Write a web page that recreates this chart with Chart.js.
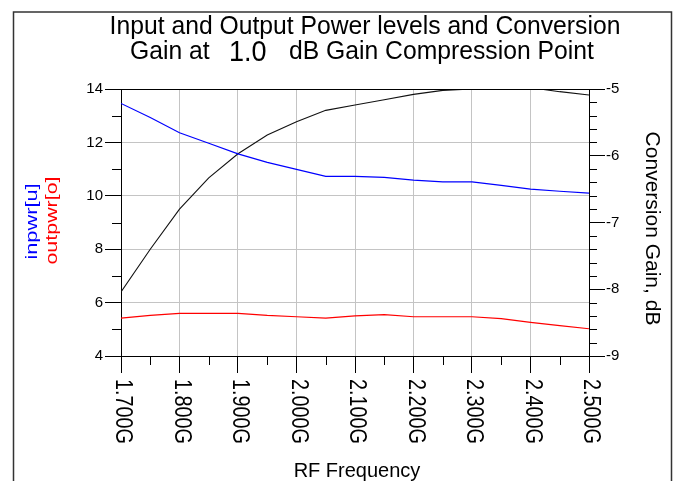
<!DOCTYPE html>
<html>
<head>
<meta charset="utf-8">
<script src="https://cdn.jsdelivr.net/npm/chart.js@4.4.1/dist/chart.umd.min.js"></script>
<style>
  html, body { margin: 0; padding: 0; background: #fff; }
  #wrap { position: relative; width: 678px; height: 481px; }
</style>
</head>
<body>
<div id="wrap"><canvas id="gainChart"></canvas></div>
<script>
// RF sweep, GHz
const freqGHz = [1.70, 1.75, 1.80, 1.85, 1.90, 1.95, 2.00, 2.05, 2.10, 2.15, 2.20, 2.25, 2.30, 2.35, 2.40, 2.45, 2.50];
// input power at 1 dB compression (left axis)
const inpwr = [13.46, 12.93, 12.36, 11.97, 11.57, 11.25, 10.99, 10.73, 10.73, 10.69, 10.59, 10.52, 10.52, 10.39, 10.25, 10.17, 10.10];
// output power (left axis)
const outpwr = [5.42, 5.52, 5.60, 5.60, 5.60, 5.52, 5.47, 5.42, 5.50, 5.55, 5.47, 5.47, 5.47, 5.40, 5.26, 5.14, 5.02];
// conversion gain, dB (right axis)
const convGain = [-8.04, -7.40, -6.80, -6.33, -5.97, -5.69, -5.49, -5.32, -5.24, -5.16, -5.08, -5.02, -5.00, -5.00, -4.98, -5.04, -5.09];

const freqTicks = [1.7, 1.8, 1.9, 2.0, 2.1, 2.2, 2.3, 2.4, 2.5];
const powerTicks = [4, 6, 8, 10, 12, 14];
const powerMinor = [5, 7, 9, 11, 13];
const gainTicks = [-9, -8, -7, -6, -5];

const FONT = "'Liberation Sans', Arial, sans-serif";

function pts(ys) {
    return freqGHz.map((f, i) => ({ x: f, y: ys[i] }));
}

// text stretched/squeezed along its own direction
function drawText(ctx, text, x, y, size, squeeze, angle, align, color) {
    ctx.save();
    ctx.translate(x, y);
    ctx.rotate(angle);
    ctx.scale(squeeze, 1);
    ctx.font = size + 'px ' + FONT;
    ctx.fillStyle = color;
    ctx.textAlign = align;
    ctx.textBaseline = 'alphabetic';
    ctx.fillText(text, 0, 0);
    ctx.restore();
}

const decor = {
    id: 'decor',
    afterDraw(chart) {
        const ctx = chart.ctx;
        const a = chart.chartArea;
        const sx = chart.scales.x, sy = chart.scales.y, sg = chart.scales.gain;
        ctx.save();

        // outer frame, bottom edge is off the picture
        ctx.strokeStyle = '#333';
        ctx.lineWidth = 1.5;
        ctx.beginPath();
        ctx.moveTo(13.5, 481);
        ctx.lineTo(13.5, 12);
        ctx.lineTo(671.5, 12);
        ctx.lineTo(671.5, 481);
        ctx.stroke();

        // top edge of plot + minor ticks
        ctx.strokeStyle = '#000';
        ctx.lineWidth = 1;
        ctx.beginPath();
        const top = Math.round(a.top) + 0.5;
        ctx.moveTo(a.left, top);
        ctx.lineTo(a.right, top);
        powerMinor.forEach(v => {
            const p = Math.round(sy.getPixelForValue(v)) + 0.5;
            ctx.moveTo(a.left - 9, p);
            ctx.lineTo(a.left, p);
        });
        for (let i = 0; i < gainTicks.length - 1; i++) {
            for (let k = 1; k < 5; k++) {
                const p = Math.round(sg.getPixelForValue(gainTicks[i] + k * 0.2)) + 0.5;
                ctx.moveTo(a.right, p);
                ctx.lineTo(a.right + 8, p);
            }
        }
        for (let i = 0; i < freqTicks.length - 1; i++) {
            const p = Math.round(sx.getPixelForValue((freqTicks[i] + freqTicks[i + 1]) / 2)) + 0.5;
            ctx.moveTo(p, a.bottom);
            ctx.lineTo(p, a.bottom + 9);
        }
        ctx.stroke();

        // x tick labels, reading downwards
        freqTicks.forEach(v => {
            const p = sx.getPixelForValue(v);
            drawText(ctx, v.toFixed(3) + 'G', p - 5, a.bottom + 23, 23, 0.86, Math.PI / 2, 'left', '#000');
        });

        // axis titles
        const midY = (a.top + a.bottom) / 2;
        drawText(ctx, 'inpwr[u]', 37, midY - 1, 17, 1.28, -Math.PI / 2, 'center', '#0000ff');
        drawText(ctx, 'outpwr[o]', 57, midY - 2, 17, 1.26, -Math.PI / 2, 'center', '#ff0000');
        drawText(ctx, 'Conversion Gain, dB', 646, midY + 6, 21, 1, Math.PI / 2, 'center', '#000');
        drawText(ctx, 'RF Frequency', 357, 477, 20, 1, 0, 'center', '#000');

        // title
        drawText(ctx, 'Input and Output Power levels and Conversion', 365, 34, 26, 0.95, 0, 'center', '#000');
        drawText(ctx, 'Gain at', 130, 59, 26, 0.95, 0, 'left', '#000');
        drawText(ctx, '1.0', 229, 61, 30, 0.9, 0, 'left', '#000');
        drawText(ctx, 'dB Gain Compression Point', 289, 59, 26, 0.95, 0, 'left', '#000');

        ctx.restore();
    }
};

new Chart(document.getElementById('gainChart'), {
    type: 'line',
    data: {
        datasets: [
            { label: 'inpwr[u]', data: pts(inpwr), yAxisID: 'y', borderColor: '#0000ff', borderWidth: 1.2 },
            { label: 'outpwr[o]', data: pts(outpwr), yAxisID: 'y', borderColor: '#ff0000', borderWidth: 1.2 },
            { label: 'Conversion Gain, dB', data: pts(convGain), yAxisID: 'gain', borderColor: '#111', borderWidth: 1.1 }
        ]
    },
    options: {
        responsive: true,
        maintainAspectRatio: false,
        animation: false,
        layout: { padding: { top: 89, left: 0, right: 0, bottom: 0 } },
        elements: { point: { radius: 0 }, line: { tension: 0 } },
        plugins: {
            legend: { display: false },
            tooltip: { enabled: false }
        },
        scales: {
            x: {
                type: 'linear',
                min: 1.7,
                max: 2.5,
                afterBuildTicks: s => { s.ticks = freqTicks.map(v => ({ value: v })); },
                afterFit: s => { s.height = 125; },
                ticks: { display: false },
                grid: { color: '#c4c4c4', tickColor: '#000', tickLength: 17 },
                border: { color: '#000' }
            },
            y: {
                position: 'left',
                min: 4,
                max: 14,
                afterBuildTicks: s => { s.ticks = powerTicks.map(v => ({ value: v })); },
                afterFit: s => { s.width = 121; },
                ticks: { color: '#000', padding: 2, font: { family: FONT, size: 15 } },
                grid: { color: '#c4c4c4', tickColor: '#000', tickLength: 16 },
                border: { color: '#000' }
            },
            gain: {
                position: 'right',
                min: -9,
                max: -5,
                afterBuildTicks: s => { s.ticks = gainTicks.map(v => ({ value: v })); },
                afterFit: s => { s.width = 89; },
                ticks: { color: '#000', padding: 1, font: { family: FONT, size: 15 } },
                grid: { drawOnChartArea: false, tickColor: '#000', tickLength: 16 },
                border: { color: '#000' }
            }
        }
    },
    plugins: [decor]
});
</script>
</body>
</html>
